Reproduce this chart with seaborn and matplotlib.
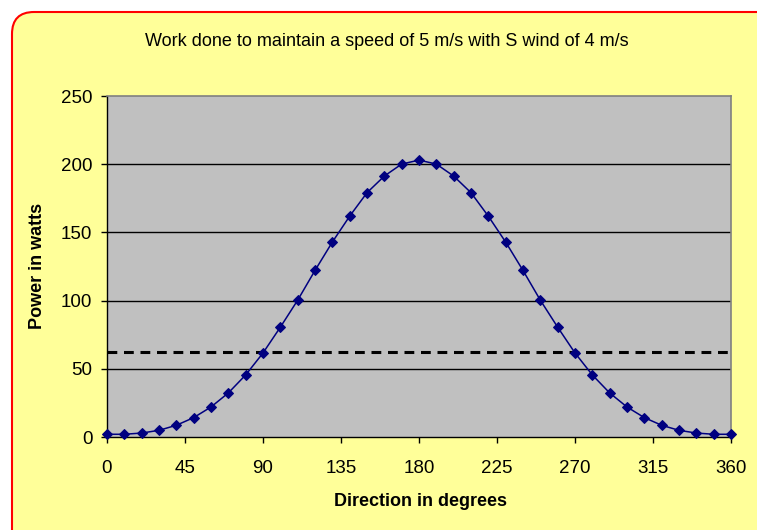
import matplotlib
matplotlib.use("Agg")
import matplotlib.pyplot as plt
import seaborn as sns
import pandas as pd
from matplotlib.patches import FancyBboxPatch
from matplotlib.transforms import IdentityTransform

direction = list(range(0, 361, 10))
power = [2.0, 2.0, 2.9, 4.9, 8.6, 14.2, 22.0, 32.3, 45.5, 61.6, 80.5, 100.3,
         122.1, 142.9, 161.9, 179.1, 191.3, 200.1, 203.0, 200.1, 191.3, 179.1,
         161.9, 142.9, 122.1, 100.3, 80.5, 61.6, 45.5, 32.3, 22.0, 14.2, 8.6,
         4.9, 2.9, 2.0, 2.0]
threshold = 62
x_ticks = [0, 45, 90, 135, 180, 225, 270, 315, 360]
y_ticks = [0, 50, 100, 150, 200, 250]
title = "Work done to maintain a speed of 5 m/s with S wind of 4 m/s"
xlabel = "Direction in degrees"
ylabel = "Power in watts"

df = pd.DataFrame({"direction": direction, "power": power})

sns.set_theme(style="white")
plt.rcParams["font.family"] = ["Liberation Sans", "DejaVu Sans"]
plt.rcParams["text.color"] = "black"

fig = plt.figure(figsize=(7.57, 5.30), dpi=100)
fig.patch.set_facecolor("white")

# yellow rounded chart area with red border (pixel coordinates)
box = FancyBboxPatch((12, -30), 780, 530 - 12 + 30,
                     boxstyle="round,pad=0,rounding_size=22",
                     facecolor="#FFFF99", edgecolor="#FF0000", linewidth=1.5,
                     transform=IdentityTransform(), zorder=-10)
fig.patches.append(box)

ax = fig.add_axes([107 / 757, 1 - 437 / 530, (731 - 107) / 757, (437 - 96) / 530])
ax.set_zorder(5)
ax.set_facecolor("#C0C0C0")

for yv in y_ticks[1:-1]:
    ax.axhline(yv, color="black", linewidth=1, zorder=1)
ax.axhline(threshold, color="black", linewidth=2.2, linestyle=(0, (3.2, 2.2)), zorder=2)

sns.lineplot(data=df, x="direction", y="power", ax=ax, color="#000080",
             linewidth=1.1, marker="D", markersize=5.5, markeredgecolor="#000080",
             zorder=3, clip_on=False)

ax.set_xlim(0, 360)
ax.set_ylim(0, 250)
ax.set_xticks(x_ticks)
ax.set_yticks(y_ticks)
ax.tick_params(axis="both", direction="out", length=4.5, width=1, color="black",
               labelsize=13.5, labelcolor="black", bottom=True, left=True)
ax.tick_params(axis="x", pad=12)
ax.tick_params(axis="y", pad=6)

for side in ["left", "bottom"]:
    ax.spines[side].set_color("black")
    ax.spines[side].set_linewidth(1)
for side in ["right", "top"]:
    ax.spines[side].set_visible(True)
    ax.spines[side].set_color("#808080")
    ax.spines[side].set_linewidth(1.2)

ax.set_xlabel("")
ax.set_ylabel("")
fig.text(420 / 757, 1 - 502 / 530, xlabel, fontsize=13, fontweight="bold",
         ha="center", va="center", color="black")
fig.text(38 / 757, 1 - 266 / 530, ylabel, rotation=90, fontsize=13,
         fontweight="bold", ha="center", va="center", color="black")
fig.text(387 / 757, 1 - 42 / 530, title, fontsize=13, ha="center", va="center",
         color="black")

fig.savefig("out.png", dpi=100, facecolor=fig.get_facecolor())
